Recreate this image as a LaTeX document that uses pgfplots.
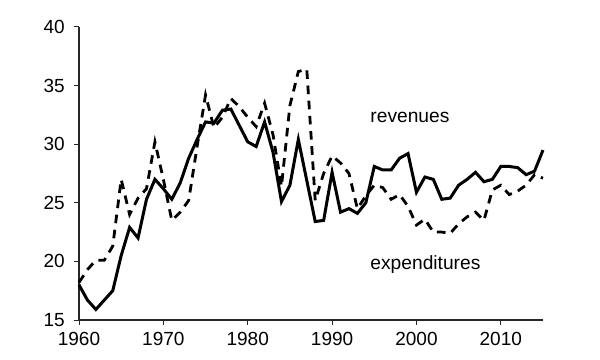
\documentclass[border=0pt]{standalone}
\usepackage{fontspec}
\setmainfont{Liberation Sans}
\usepackage{pgfplots}
\pgfplotsset{compat=1.18}
\begin{document}
\begin{tikzpicture}
\useasboundingbox (0,0) rectangle (300bp,180bp);
\begin{axis}[
  at={(39.5bp,20bp)}, anchor=south west,
  scale only axis, width=232bp, height=146.5bp,
  xmin=1960, xmax=2015, ymin=15, ymax=40,
  axis lines*=left,
  axis line style={line width=0.6bp, black!85},
  xtick={1960,1970,...,2010}, ytick={15,20,...,40},
  tick style={line width=0.5bp, black!85},
  tick align=outside, major tick length=2.6bp,
  x tick label style={/pgf/number format/1000 sep=},
  /pgf/number format/assume math mode=true,
  tick label style={font=\fontsize{9.5bp}{11bp}\selectfont},
  yticklabel style={xshift=-1bp},
  clip=false,
]
\addplot[black, line width=1.5bp, line join=miter] coordinates {
(1960,18.0)(1961,16.7)(1962,15.9)(1963,16.7)(1964,17.5)(1965,20.5)(1966,22.9)(1967,22.0)(1968,25.3)(1969,27.0)
(1970,26.2)(1971,25.3)(1972,26.7)(1973,28.8)(1974,30.4)(1975,31.9)(1976,31.8)(1977,32.9)(1978,33.0)(1979,31.6)
(1980,30.2)(1981,29.8)(1982,31.9)(1983,29.3)(1984,25.1)(1985,26.5)(1986,30.4)(1987,26.9)(1988,23.4)(1989,23.5)
(1990,27.6)(1991,24.2)(1992,24.5)(1993,24.1)(1994,25.0)(1995,28.1)(1996,27.8)(1997,27.8)(1998,28.8)(1999,29.2)
(2000,25.9)(2001,27.2)(2002,27.0)(2003,25.3)(2004,25.4)(2005,26.5)(2006,27.0)(2007,27.6)(2008,26.8)(2009,27.0)
(2010,28.1)(2011,28.1)(2012,28.0)(2013,27.4)(2014,27.7)(2015,29.5)
};
\addplot[black, line width=1.4bp, dash pattern=on 4.3bp off 3.3bp] coordinates {
(1960,18.2)(1961,19.3)(1962,20.1)(1963,20.1)(1964,21.3)(1965,27.0)(1966,24.0)(1967,25.4)(1968,26.2)(1969,30.2)
(1970,27.0)(1971,23.5)(1972,24.2)(1973,25.2)(1974,29.8)(1975,34.2)(1976,31.4)(1977,32.3)(1978,33.9)(1979,33.2)
(1980,32.3)(1981,31.5)(1982,33.5)(1983,30.8)(1984,26.4)(1985,33.3)(1986,36.2)(1987,36.4)(1988,25.2)(1989,27.5)
(1990,29.0)(1991,28.4)(1992,27.5)(1993,24.5)(1994,25.6)(1995,26.5)(1996,26.3)(1997,25.3)(1998,25.7)(1999,24.7)
(2000,23.1)(2001,23.6)(2002,22.5)(2003,22.5)(2004,22.4)(2005,23.2)(2006,23.8)(2007,24.2)(2008,23.5)(2009,26.1)
(2010,26.5)(2011,25.7)(2012,26.0)(2013,26.5)(2014,27.4)(2015,27.1)
};
\node[anchor=west, font=\fontsize{9.6bp}{11bp}\selectfont, inner sep=0pt] at (axis cs:1994.5,32.3) {revenues};
\node[anchor=west, font=\fontsize{9.6bp}{11bp}\selectfont, inner sep=0pt] at (axis cs:1994.5,19.7) {expenditures};
\end{axis}
\end{tikzpicture}
\end{document}
